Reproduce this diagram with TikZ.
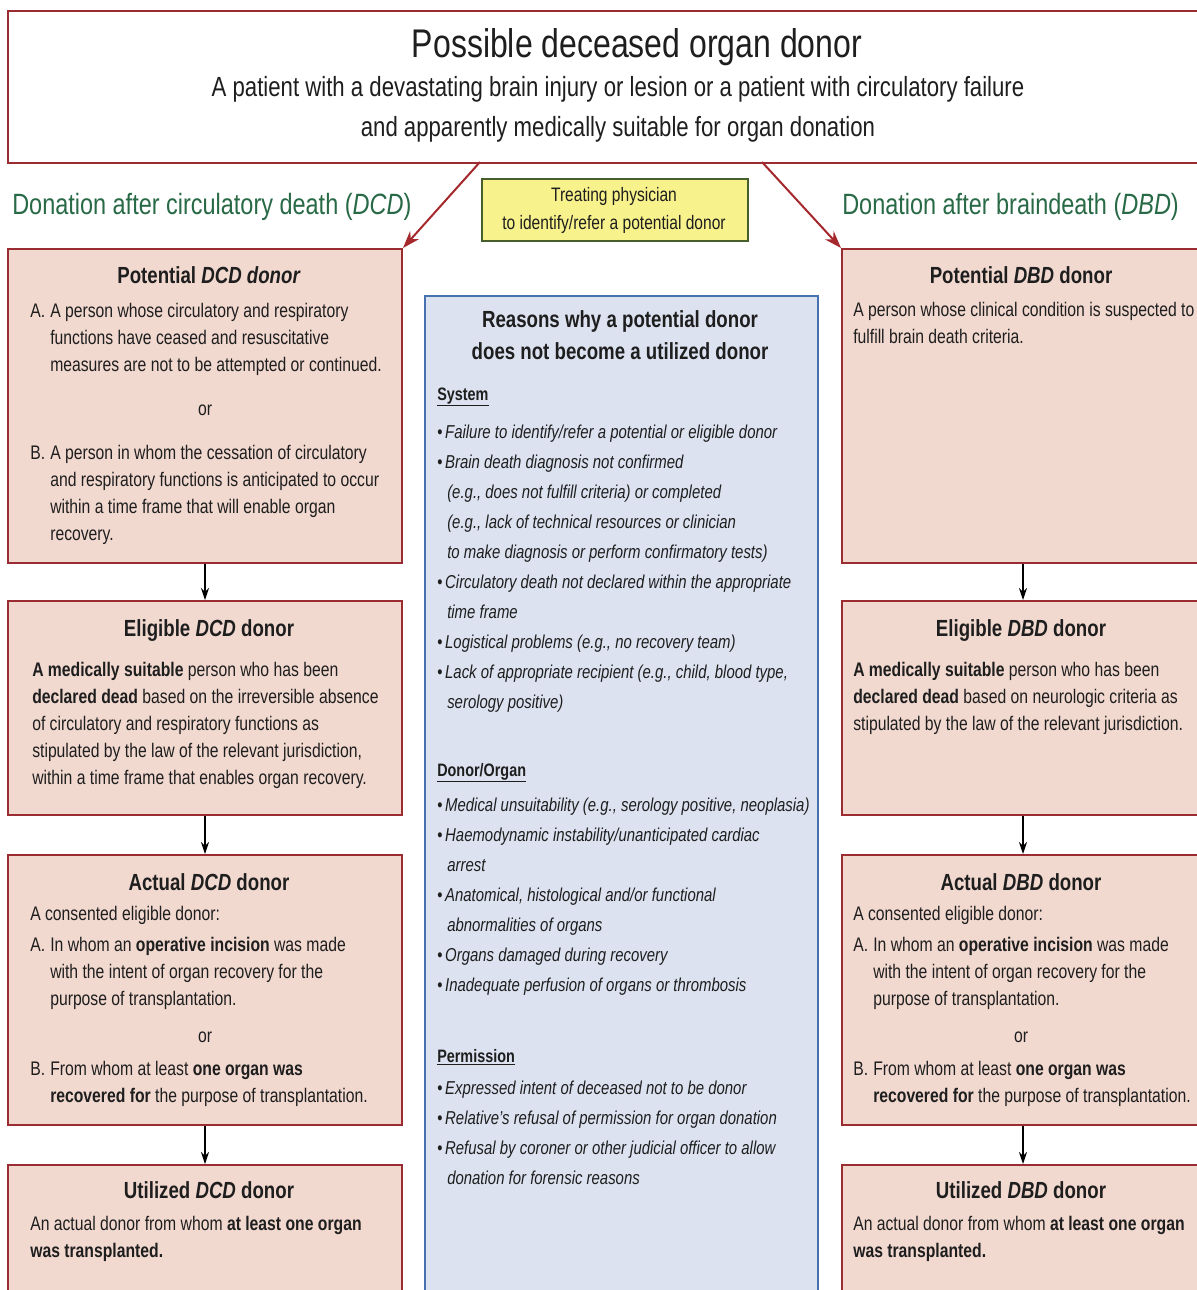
\documentclass[tikz,border=0pt]{standalone}
\usepackage{fontspec}
\setmainfont{Liberation Sans}[FakeStretch=0.8]
\usetikzlibrary{arrows.meta}
\definecolor{boxfill}{RGB}{242,217,208}
\definecolor{boxline}{RGB}{155,45,50}
\definecolor{bluefill}{RGB}{220,226,240}
\definecolor{blueline}{RGB}{70,115,175}
\definecolor{yelfill}{RGB}{248,242,140}
\definecolor{yelline}{RGB}{70,95,45}
\definecolor{dgreen}{RGB}{40,105,70}
\definecolor{redarr}{RGB}{165,40,45}
\definecolor{txt}{RGB}{30,30,30}
\newcommand\ind{\hspace*{15pt}}
\newcommand\lab[1]{\makebox[15pt][l]{#1}}
\newcommand\cind{\hspace*{7.5pt}}
\newcommand\bul{\textup{\char"2022}\hspace{2pt}}
\begin{document}
\begin{tikzpicture}[x=0.75pt,y=-0.75pt,
  dbox/.style={draw=boxline, fill=boxfill, line width=1.5pt, rectangle, inner sep=0pt, anchor=north west},
  leftbox/.style={dbox, minimum width=295.5pt},
  rightbox/.style={dbox, minimum width=271.5pt},
  body/.style={anchor=base west, inner sep=0pt, align=left, text=txt, font=\fontsize{14.75}{20.25}\selectfont},
  orlab/.style={anchor=base, inner sep=0pt, text=txt, font=\fontsize{14.75}{20.25}\selectfont},
  boxttl/.style={anchor=base, inner sep=0pt, text=txt, font=\bfseries\fontsize{17.5}{21}\selectfont},
  ctext/.style={anchor=base west, inner sep=0pt, align=left, text=txt, font=\itshape\fontsize{14}{22.5}\selectfont},
  chead/.style={anchor=base west, inner sep=0pt, text=txt, font=\bfseries\fontsize{13.5}{16}\selectfont},
  ghead/.style={anchor=base west, inner sep=0pt, text=dgreen, font=\fontsize{22}{26}\selectfont},
  barr/.style={-{Stealth[length=9pt,width=6pt]}, line width=1pt, black},
  rarr/.style={-{Stealth[length=13pt,width=9pt]}, line width=1.5pt, redarr}
]
\useasboundingbox (0,0) rectangle (1197,1290);
\clip (0,0) rectangle (1197,1290);
\fill[white] (0,0) rectangle (1197,1290);

% top box
\node[draw=boxline, fill=white, line width=1.5pt, rectangle, inner sep=0pt, anchor=north west,
      minimum width=897pt, minimum height=114pt] (top) at (7,10) {};
\node[anchor=base, inner sep=0pt, text=txt, font=\fontsize{30}{36}\selectfont] (title) at (637,57) {Possible deceased organ donor};
% multi-line nodes: base = baseline of last line
\node[anchor=base, inner sep=0pt, align=center, text=txt, font=\fontsize{20.8}{30}\selectfont] (sub) at (618,136)
  {A patient with a devastating brain injury or lesion or a patient with circulatory failure\\and apparently medically suitable for organ donation};

% yellow box
\node[draw=yelline, fill=yelfill, line width=1.2pt, rectangle, inner sep=0pt, anchor=north west,
      minimum width=199.5pt, minimum height=46.5pt] (yel) at (481,178) {};
\node[anchor=base, inner sep=0pt, align=center, text=txt, font=\fontsize{14.6}{21}\selectfont] (yeltxt) at (614,229)
  {Treating physician\\to identify/refer a potential donor};

% green headings
\node[ghead] (hdcd) at (12,214) {Donation after circulatory death (\textit{DCD})};
\node[ghead] (hdbd) at (842,214) {Donation after braindeath (\textit{DBD})};

% left boxes
\node[leftbox, minimum height=235.5pt] (pdcd) at (7,248) {};
\node[leftbox, minimum height=160.5pt] (edcd) at (7,600) {};
\node[leftbox, minimum height=202.5pt] (adcd) at (7,854) {};
\node[leftbox, minimum height=112pt] (udcd) at (7,1164) {};

% right boxes
\node[rightbox, minimum height=235.5pt] (pdbd) at (841,248) {};
\node[rightbox, minimum height=160.5pt] (edbd) at (841,600) {};
\node[rightbox, minimum height=202.5pt] (adbd) at (841,854) {};
\node[rightbox, minimum height=112pt] (udbd) at (841,1164) {};

% center box
\node[draw=blueline, fill=bluefill, line width=1.5pt, rectangle, inner sep=0pt, anchor=north west,
      minimum width=294.75pt, minimum height=762pt] (reasons) at (424,295) {};

% red arrows
\coordinate (topL) at (480,162);
\coordinate (topR) at (762,162);
\draw[rarr] (topL) -- (pdcd.north east);
\draw[rarr] (topR) -- (pdbd.north west);

% black arrows
\draw[barr] (pdcd.south) -- (edcd.north);
\draw[barr] (edcd.south) -- (adcd.north);
\draw[barr] (adcd.south) -- (udcd.north);
\draw[barr] (pdbd.south) -- (edbd.north);
\draw[barr] (edbd.south) -- (adbd.north);
\draw[barr] (adbd.south) -- (udbd.north);

% ---- left texts
\node[boxttl] (t1) at (209,283) {Potential \textit{DCD donor}};
\node[body] (b1a) at (30,371) {\lab{A.}A person whose circulatory and respiratory\\
  \ind functions have ceased and resuscitative\\
  \ind measures are not to be attempted or continued.};
\node[orlab] (or1) at (205,415) {or};
\node[body] (b1b) at (30,540) {\lab{B.}A person in whom the cessation of circulatory\\
  \ind and respiratory functions is anticipated to occur\\
  \ind within a time frame that will enable organ\\
  \ind recovery.};

\node[boxttl] (t2) at (209,636) {Eligible \textit{DCD} donor};
\node[body] (b2) at (32,784) {\textbf{A medically suitable} person who has been\\
  \textbf{declared dead} based on the irreversible absence\\
  of circulatory and respiratory functions as\\
  stipulated by the law of the relevant jurisdiction,\\
  within a time frame that enables organ recovery.};

\node[boxttl] (t3) at (209,890) {Actual \textit{DCD} donor};
\node[body] (b3) at (30,920) {A consented eligible donor:};
\node[body] (b3a) at (30,1005) {\lab{A.}In whom an \textbf{operative incision} was made\\
  \ind with the intent of organ recovery for the\\
  \ind purpose of transplantation.};
\node[orlab] (or3) at (205,1042) {or};
\node[body] (b3b) at (30,1102) {\lab{B.}From whom at least \textbf{one organ was}\\
  \ind\textbf{recovered for} the purpose of transplantation.};

\node[boxttl] (t4) at (209,1198) {Utilized \textit{DCD} donor};
\node[body] (b4) at (30,1257) {An actual donor from whom \textbf{at least one organ}\\
  \textbf{was transplanted.}};

% ---- right texts
\node[boxttl] (r1) at (1021,283) {Potential \textit{DBD} donor};
\node[body] (rb1) at (853,343) {A person whose clinical condition is suspected to\\
  fulfill brain death criteria.};

\node[boxttl] (r2) at (1021,636) {Eligible \textit{DBD} donor};
\node[body] (rb2) at (853,730) {\textbf{A medically suitable} person who has been\\
  \textbf{declared dead} based on neurologic criteria as\\
  stipulated by the law of the relevant jurisdiction.};

\node[boxttl] (r3) at (1021,890) {Actual \textit{DBD} donor};
\node[body] (rb3) at (853,920) {A consented eligible donor:};
\node[body] (rb3a) at (853,1005) {\lab{A.}In whom an \textbf{operative incision} was made\\
  \ind with the intent of organ recovery for the\\
  \ind purpose of transplantation.};
\node[orlab] (ror3) at (1021,1042) {or};
\node[body] (rb3b) at (853,1102) {\lab{B.}From whom at least \textbf{one organ was}\\
  \ind\textbf{recovered for} the purpose of transplantation.};

\node[boxttl] (r4) at (1021,1198) {Utilized \textit{DBD} donor};
\node[body] (rb4) at (853,1257) {An actual donor from whom \textbf{at least one organ}\\
  \textbf{was transplanted.}};

% ---- center texts
\node[anchor=base, inner sep=0pt, align=center, text=txt, font=\bfseries\fontsize{17.5}{24}\selectfont] (ctitle) at (620,359)
  {Reasons why a potential donor\\does not become a utilized donor};
\node[chead] (hsys) at (437,400) {\underline{System}};
\node[ctext] (csys) at (437,708) {\bul Failure to identify/refer a potential or eligible donor\\
  \bul Brain death diagnosis not confirmed\\
  \cind (e.g., does not fulfill criteria) or completed\\
  \cind (e.g., lack of technical resources or clinician\\
  \cind to make diagnosis or perform confirmatory tests)\\
  \bul Circulatory death not declared within the appropriate\\
  \cind time frame\\
  \bul Logistical problems (e.g., no recovery team)\\
  \bul Lack of appropriate recipient (e.g., child, blood type,\\
  \cind serology positive)};
\node[chead] (hdon) at (437,776) {\underline{Donor/Organ}};
\node[ctext] (cdon) at (437,991) {\bul Medical unsuitability (e.g., serology positive, neoplasia)\\
  \bul Haemodynamic instability/unanticipated cardiac\\
  \cind arrest\\
  \bul Anatomical, histological and/or functional\\
  \cind abnormalities of organs\\
  \bul Organs damaged during recovery\\
  \bul Inadequate perfusion of organs or thrombosis};
\node[chead] (hper) at (437,1062) {\underline{Permission}};
\node[ctext] (cper) at (437,1184) {\bul Expressed intent of deceased not to be donor\\
  \bul Relative's refusal of permission for organ donation\\
  \bul Refusal by coroner or other judicial officer to allow\\
  \cind donation for forensic reasons};
\end{tikzpicture}
\end{document}
